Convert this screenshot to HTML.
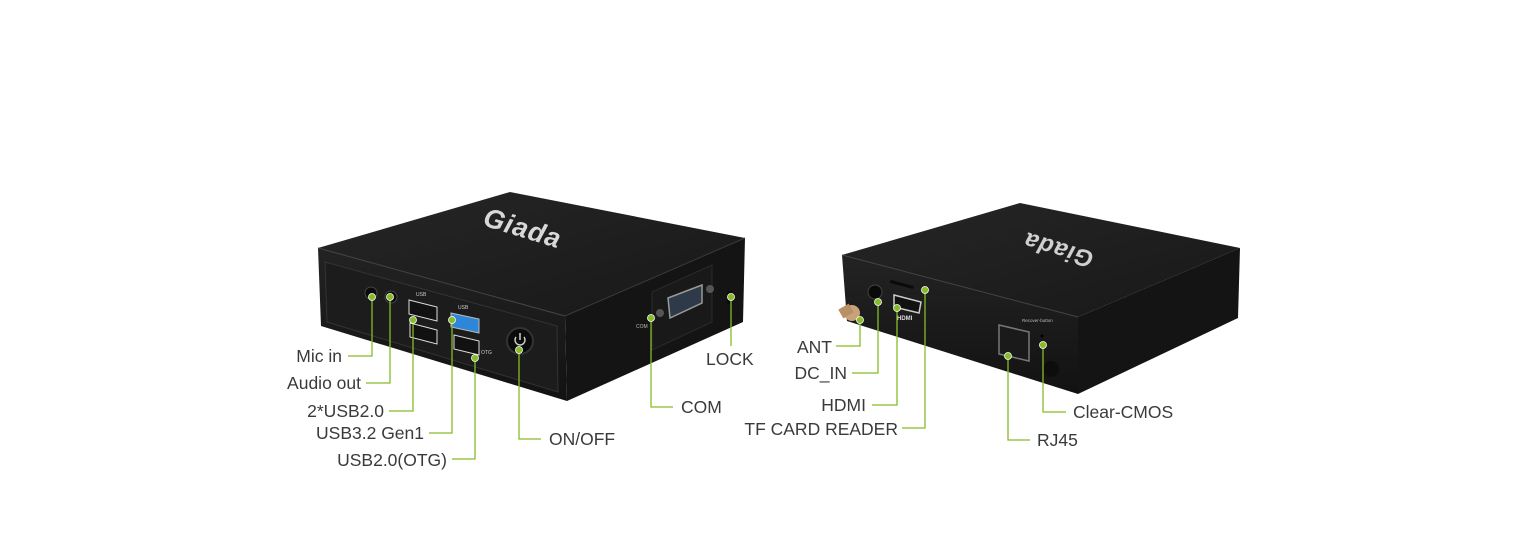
<!DOCTYPE html>
<html><head><meta charset="utf-8"><style>
html,body{margin:0;padding:0;background:#fff;}
svg{display:block;}
text{font-family:"Liberation Sans",sans-serif;}
.lb{font-size:17.5px;fill:#3a3a3a;}
.ln{stroke:#86bc25;stroke-width:1.3;fill:none;}
.dt{fill:#86bc25;stroke:#fff;stroke-width:0.8;}
</style></head><body>
<svg width="1536" height="560" viewBox="0 0 1536 560" xmlns="http://www.w3.org/2000/svg">
<defs>
<linearGradient id="top1" x1="0" y1="0" x2="1" y2="1"><stop offset="0" stop-color="#262626"/><stop offset="1" stop-color="#181818"/></linearGradient>
<linearGradient id="fr1" x1="0" y1="0" x2="0" y2="1"><stop offset="0" stop-color="#232323"/><stop offset="1" stop-color="#121212"/></linearGradient>
</defs>
<!-- LEFT DEVICE -->
<polygon points="318,248 510,192 745,238 565,316" fill="url(#top1)"/>
<polygon points="565,316 745,238 743,322 567,401" fill="#141414"/>
<polygon points="318,248 565,316 567,401 321,326" fill="url(#fr1)"/>
<polygon points="325,262 557,326 558,392 327,322" fill="#1c1c1c" stroke="#333" stroke-width="1"/>
<line x1="318" y1="248" x2="565" y2="316" stroke="#444" stroke-width="1"/>
<line x1="565" y1="316" x2="745" y2="238" stroke="#3a3a3a" stroke-width="1"/>
<text x="478" y="240" transform="rotate(17 530 245)" font-size="27" font-weight="bold" font-style="italic" fill="#d8d8d8" letter-spacing="1">Giada</text>
<!-- COM panel -->
<polygon points="652,292 712,265 712,322 652,350" fill="#191919" stroke="#2a2a2a"/>
<polygon points="668,298 702,285 702,303 670,318" fill="#2e3a48" stroke="#999" stroke-width="1.5"/>
<circle cx="660" cy="313" r="4" fill="#555"/><circle cx="710" cy="289" r="4" fill="#555"/>
<text x="636" y="328" font-size="5" fill="#bbb">COM</text>
<rect x="727" y="291" width="5" height="13" fill="#0c0c0c"/>
<!-- ports -->
<circle cx="371" cy="293" r="6" fill="#0a0a0a" stroke="#444"/>
<circle cx="391" cy="297" r="6" fill="#0a0a0a" stroke="#444"/>
<text x="416" y="296" font-size="5" fill="#ccc">USB</text>
<polygon points="409,300 437,307 437,321 409,314" fill="#111" stroke="#ddd" stroke-width="1"/>
<polygon points="410,323 437,330 437,344 410,337" fill="#111" stroke="#ddd" stroke-width="1"/>
<text x="458" y="309" font-size="5" fill="#ccc">USB</text>
<polygon points="451,313 479,319 479,333 451,327" fill="#2e86d9" stroke="#bbb" stroke-width="1"/>
<polygon points="454,335 479,341 479,355 454,349" fill="#111" stroke="#ddd" stroke-width="1"/>
<text x="481" y="354" font-size="5" fill="#ccc">OTG</text>
<circle cx="520" cy="341" r="13" fill="#0b0b0b" stroke="#333" stroke-width="2"/>
<path d="M516,337 a5,5 0 1 0 8,0" stroke="#ccc" stroke-width="1.5" fill="none"/><line x1="520" y1="333" x2="520" y2="340" stroke="#ccc" stroke-width="1.5"/>

<!-- RIGHT DEVICE -->
<polygon points="842,255 1020,203 1240,248 1078,317" fill="url(#top1)"/>
<polygon points="842,255 1078,317 1078,394 847,321" fill="url(#fr1)"/>
<polygon points="1078,317 1240,248 1238,318 1078,394" fill="#141414"/>
<line x1="842" y1="255" x2="1078" y2="317" stroke="#444"/>
<text x="996" y="246" transform="rotate(197 1046 242)" font-size="24" font-weight="bold" font-style="italic" fill="#cfcfcf" letter-spacing="1">Giada</text>
<circle cx="875" cy="292" r="7" fill="#0a0a0a" stroke="#444"/>
<rect x="890" y="283" width="24" height="3" fill="#0a0a0a" transform="rotate(15 902 284)"/>
<polygon points="894,295 921,302 919,313 894,307" fill="#111" stroke="#ccc" stroke-width="1.5"/>
<text x="897" y="320" font-size="6" font-weight="bold" fill="#ddd">HDMI</text>
<circle cx="852" cy="313" r="8" fill="#c9a27a"/><rect x="840" y="306" width="12" height="10" fill="#b98f66" transform="rotate(-30 846 311)"/>
<polygon points="999,325 1029,332 1029,361 999,354" fill="#1a1a1a" stroke="#777" stroke-width="1.5"/>
<text x="1022" y="322" font-size="4.5" fill="#bbb">Recover-button</text>
<circle cx="1042" cy="336" r="1.5" fill="#000"/>
<circle cx="1051" cy="369" r="8" fill="#0d0d0d"/>

<!-- CALLOUT LINES -->
<g class="ln">
<polyline points="348,356 372,356 372,297"/>
<polyline points="366,383 390,383 390,297"/>
<polyline points="389,411 413,411 413,320"/>
<polyline points="429,433 452,433 452,320"/>
<polyline points="452,459 475,459 475,358"/>
<polyline points="519,350 519,439 541,439"/>
<polyline points="651,318 651,407 673,407"/>
<polyline points="731,297 731,346"/>
<polyline points="836,346 860,346 860,320"/>
<polyline points="852,373 878,373 878,302"/>
<polyline points="872,405 897,405 897,308"/>
<polyline points="902,428 925,428 925,290"/>
<polyline points="1008,356 1008,440 1030,440"/>
<polyline points="1043,345 1043,412 1066,412"/>
</g>
<g class="dt">
<circle cx="372" cy="297" r="3.5"/><circle cx="390" cy="297" r="3.5"/><circle cx="413" cy="320" r="3.5"/>
<circle cx="452" cy="320" r="3.5"/><circle cx="475" cy="358" r="3.5"/><circle cx="519" cy="350" r="3.5"/>
<circle cx="651" cy="318" r="3.5"/><circle cx="731" cy="297" r="3.5"/>
<circle cx="860" cy="320" r="3.5"/><circle cx="878" cy="302" r="3.5"/><circle cx="897" cy="308" r="3.5"/>
<circle cx="925" cy="290" r="3.5"/><circle cx="1008" cy="356" r="3.5"/><circle cx="1043" cy="345" r="3.5"/>
</g>
<g class="lb">
<text x="342" y="362" text-anchor="end">Mic in</text>
<text x="361" y="389" text-anchor="end">Audio out</text>
<text x="384" y="417" text-anchor="end">2*USB2.0</text>
<text x="424" y="439" text-anchor="end">USB3.2 Gen1</text>
<text x="447" y="466" text-anchor="end">USB2.0(OTG)</text>
<text x="549" y="445">ON/OFF</text>
<text x="681" y="413">COM</text>
<text x="706" y="365">LOCK</text>
<text x="832" y="353" text-anchor="end">ANT</text>
<text x="847" y="379" text-anchor="end">DC_IN</text>
<text x="866" y="411" text-anchor="end">HDMI</text>
<text x="898" y="435" text-anchor="end">TF CARD READER</text>
<text x="1037" y="446">RJ45</text>
<text x="1073" y="418">Clear-CMOS</text>
</g>
</svg>
</body></html>
